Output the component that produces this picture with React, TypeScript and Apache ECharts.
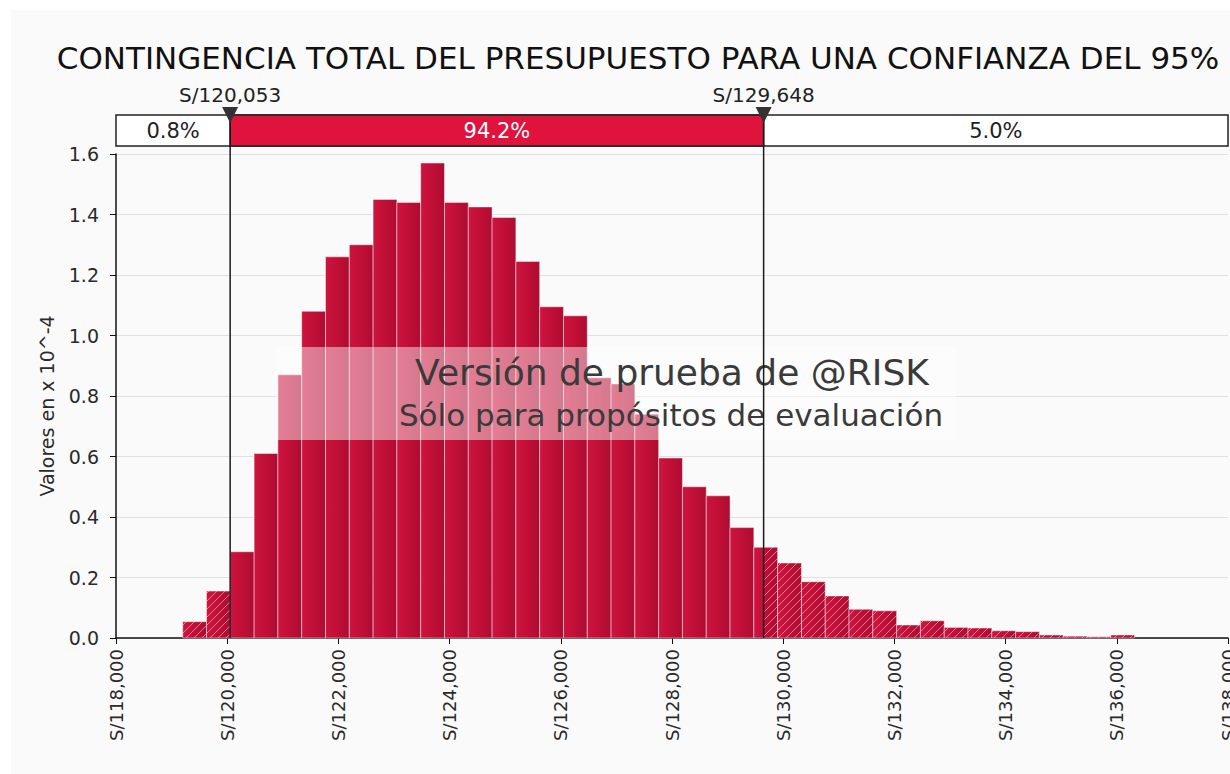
import React, { useEffect, useRef } from 'react';
import * as echarts from 'echarts';

const TITLE = 'CONTINGENCIA TOTAL DEL PRESUPUESTO PARA UNA CONFIANZA DEL 95%';
const Y_AXIS_NAME = 'Valores en x 10^-4';
const WATERMARK_1 = 'Versión de prueba de @RISK';
const WATERMARK_2 = 'Sólo para propósitos de evaluación';

// histogram bins (S/), density values in x 10^-4
const BIN_START = 119200;
const BIN_WIDTH = 428;
const DENSITY = [
  0.054, 0.155, 0.285, 0.61, 0.87, 1.08, 1.26, 1.3, 1.45, 1.44,
  1.57, 1.44, 1.425, 1.39, 1.245, 1.095, 1.065, 0.86, 0.84, 0.74,
  0.595, 0.5, 0.47, 0.365, 0.3, 0.248, 0.186, 0.139, 0.095, 0.09,
  0.043, 0.057, 0.035, 0.033, 0.024, 0.021, 0.01, 0.006, 0.004, 0.01,
];

// percentile delimiters and band probabilities
const DELIMITERS = [120053, 129648];
const DELIMITER_LABELS = ['S/120,053', 'S/129,648'];
const BAND_LABELS = ['0.8%', '94.2%', '5.0%'];

// axis ranges
const X_MIN = 118000;
const X_MAX = 138000;
const X_STEP = 2000;
const Y_MIN = 0;
const Y_MAX = 1.6;
const Y_STEP = 0.2;

const FONT = "'DejaVu Sans', Verdana, sans-serif";

export default function App() {
  const ref = useRef<HTMLDivElement>(null);

  useEffect(() => {
    if (!ref.current) return;
    const chart = echarts.init(ref.current, undefined, { renderer: 'svg' });

    const data = DENSITY.map((v, i) => {
      const a = BIN_START + i * BIN_WIDTH;
      const b = a + BIN_WIDTH;
      return [(a + b) / 2, v, a, b];
    });

    const barFill = new echarts.graphic.LinearGradient(0, 0, 1, 0, [
      { offset: 0, color: '#cc143f' },
      { offset: 0.5, color: '#c10f37' },
      { offset: 1, color: '#ad0c31' },
    ]);

    const renderItem = (params: any, api: any) => {
      const v = api.value(1);
      const a = api.value(2);
      const b = api.value(3);
      const tl = api.coord([a, v]);
      const br = api.coord([b, 0]);
      const x0 = tl[0];
      const y0 = tl[1];
      const x1 = br[0];
      const y1 = br[1];
      const children: any[] = [
        {
          type: 'rect',
          shape: { x: x0, y: y0, width: x1 - x0, height: y1 - y0 },
          style: { fill: barFill, stroke: 'rgba(255,255,255,0.45)', lineWidth: 1 },
        },
      ];
      const lowPx = api.coord([DELIMITERS[0], 0])[0];
      const highPx = api.coord([DELIMITERS[1], 0])[0];
      const ranges: number[][] = [];
      if (x0 < lowPx) ranges.push([x0, Math.min(x1, lowPx)]);
      if (x1 > highPx) ranges.push([Math.max(x0, highPx), x1]);
      const S = 8;
      ranges.forEach(([ra, rb]) => {
        const cStart = Math.ceil((ra + y0) / S) * S;
        for (let c = cStart; c <= rb + y1; c += S) {
          const lo = Math.max(ra, c - y1);
          const hi = Math.min(rb, c - y0);
          if (hi - lo > 0.5) {
            children.push({
              type: 'line',
              shape: { x1: lo, y1: c - lo, x2: hi, y2: c - hi },
              style: { stroke: 'rgba(255,255,255,0.45)', lineWidth: 1 },
            });
          }
        }
      });
      return { type: 'group', children };
    };

    chart.setOption({
      animation: false,
      backgroundColor: '#fafafa',
      textStyle: { fontFamily: FONT },
      grid: {
        left: 116,
        right: 2,
        top: 154,
        bottom: 136,
        containLabel: false,
        outerBoundsMode: 'none',
      },
      xAxis: {
        type: 'value',
        min: X_MIN,
        max: X_MAX,
        interval: X_STEP,
        axisLine: { show: true, lineStyle: { color: '#111', width: 1.5 } },
        axisTick: { show: true, length: 6, lineStyle: { color: '#111' } },
        splitLine: { show: false },
        axisLabel: {
          rotate: 90,
          margin: 11,
          fontSize: 18,
          color: '#2a2a2a',
          fontFamily: FONT,
          hideOverlap: false,
          formatter: (v: number) => 'S/' + Number(v).toLocaleString('en-US'),
        },
      },
      yAxis: {
        type: 'value',
        min: Y_MIN,
        max: Y_MAX,
        interval: Y_STEP,
        name: Y_AXIS_NAME,
        nameLocation: 'middle',
        nameGap: 60,
        nameRotate: 90,
        nameTextStyle: { fontSize: 19, color: '#2a2a2a', fontFamily: FONT, padding: [0, 20, 0, 0] },
        axisLine: { show: true, lineStyle: { color: '#111', width: 1.5 } },
        axisTick: { show: true, length: 6, lineStyle: { color: '#111' } },
        splitLine: { show: true, lineStyle: { color: '#e0e0e0', width: 1 } },
        axisLabel: {
          fontSize: 19,
          margin: 17,
          color: '#2a2a2a',
          fontFamily: FONT,
          formatter: (v: number) => v.toFixed(1),
        },
      },
      series: [
        {
          type: 'custom',
          renderItem,
          encode: { x: 0, y: 1 },
          data,
          z: 3,
        },
      ],
    });

    const pxL = chart.convertToPixel({ xAxisIndex: 0 }, DELIMITERS[0]) as number;
    const pxH = chart.convertToPixel({ xAxisIndex: 0 }, DELIMITERS[1]) as number;
    const gl = chart.convertToPixel({ xAxisIndex: 0 }, X_MIN) as number;
    const gr = chart.convertToPixel({ xAxisIndex: 0 }, X_MAX) as number;
    const yBase = chart.convertToPixel({ yAxisIndex: 0 }, 0) as number;

    const boxTop = 115;
    const boxH = 31;
    const markerPx = [pxL, pxH];

    const graphic: any[] = [
      // outer white margins
      { type: 'rect', shape: { x: 0, y: 0, width: 1230, height: 10 }, style: { fill: '#ffffff' }, z: 1 },
      { type: 'rect', shape: { x: 0, y: 0, width: 11, height: 774 }, style: { fill: '#ffffff' }, z: 1 },
      // title
      {
        type: 'text',
        x: 638,
        y: 58,
        style: {
          text: TITLE,
          fontSize: 31,
          fontFamily: FONT,
          fill: '#111',
          align: 'center',
          verticalAlign: 'middle',
        },
        z: 60,
      },
      // probability band box
      {
        type: 'rect',
        shape: { x: gl, y: boxTop, width: gr - gl, height: boxH },
        style: { fill: '#ffffff', stroke: '#222', lineWidth: 1.5 },
        z: 50,
      },
      {
        type: 'rect',
        shape: { x: pxL, y: boxTop, width: pxH - pxL, height: boxH },
        style: { fill: '#e0133d', stroke: '#222', lineWidth: 1.5 },
        z: 51,
      },
      {
        type: 'text',
        x: (gl + pxL) / 2,
        y: boxTop + boxH / 2,
        style: { text: BAND_LABELS[0], fontSize: 21, fontFamily: FONT, fill: '#222', align: 'center', verticalAlign: 'middle' },
        z: 52,
      },
      {
        type: 'text',
        x: (pxL + pxH) / 2,
        y: boxTop + boxH / 2,
        style: { text: BAND_LABELS[1], fontSize: 21, fontFamily: FONT, fill: '#ffffff', align: 'center', verticalAlign: 'middle' },
        z: 52,
      },
      {
        type: 'text',
        x: (pxH + gr) / 2,
        y: boxTop + boxH / 2,
        style: { text: BAND_LABELS[2], fontSize: 21, fontFamily: FONT, fill: '#222', align: 'center', verticalAlign: 'middle' },
        z: 52,
      },
      // watermark band
      {
        type: 'rect',
        shape: { x: 276, y: 347, width: 680, height: 93 },
        style: { fill: 'rgba(255,255,255,0.45)' },
        z: 40,
      },
      {
        type: 'text',
        x: 672,
        y: 372,
        style: { text: WATERMARK_1, fontSize: 36, fontFamily: FONT, fill: '#3a3a3a', align: 'center', verticalAlign: 'middle' },
        z: 41,
      },
      {
        type: 'text',
        x: 671,
        y: 415,
        style: { text: WATERMARK_2, fontSize: 31, fontFamily: FONT, fill: '#3a3a3a', align: 'center', verticalAlign: 'middle' },
        z: 41,
      },
    ];

    markerPx.forEach((px, i) => {
      graphic.push({
        type: 'line',
        shape: { x1: px, y1: boxTop, x2: px, y2: yBase },
        style: { stroke: '#1a1a1a', lineWidth: 1.5 },
        z: 55,
      });
      graphic.push({
        type: 'polygon',
        shape: { points: [[px - 8, 107], [px + 8, 107], [px, 123]] },
        style: { fill: '#333333' },
        z: 56,
      });
      graphic.push({
        type: 'text',
        x: px,
        y: 95,
        style: { text: DELIMITER_LABELS[i], fontSize: 20, fontFamily: FONT, fill: '#222', align: 'center', verticalAlign: 'middle' },
        z: 56,
      });
    });

    chart.setOption({ graphic });

    return () => chart.dispose();
  }, []);

  return (
    <div
      ref={ref}
      style={{ position: 'fixed', left: 0, top: 0, width: 1230, height: 774, background: '#ffffff' }}
    />
  );
}
